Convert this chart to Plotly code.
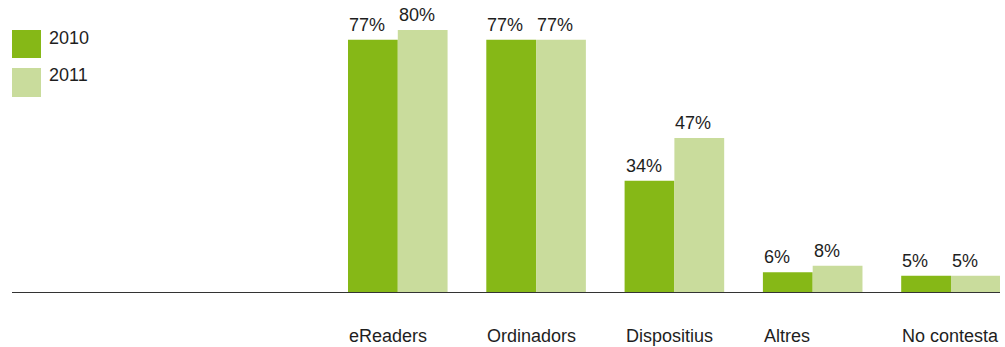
import plotly.graph_objects as go

# Data
categories = ["eReaders", "Ordinadors", "Dispositius", "Altres", "No contesta"]
series_names = ["2010", "2011"]
values_2010 = [77, 77, 34, 6, 5]
values_2011 = [80, 77, 47, 8, 5]

colors = ["#86b817", "#c9dc9c"]
text_color = "#1e1e1e"
font_family = "Liberation Sans, Arial, Helvetica, sans-serif"

W, H = 1005, 347
m_l, m_r, m_t, m_b = 12, 5, 10, 55
plot_w = W - m_l - m_r
plot_h = H - m_t - m_b

bargap = 0.28
bar_w = (1 - bargap) / 2

xs = list(range(len(categories)))
fig = go.Figure()
for name, vals, col in zip(series_names, [values_2010, values_2011], colors):
    fig.add_trace(go.Bar(x=xs, y=vals, name=name, marker=dict(color=col, line=dict(width=0)),
                         showlegend=False, hoverinfo="skip"))

annotations = []
# value labels, left-aligned over each bar
for k, vals in enumerate([values_2010, values_2011]):
    for i, v in enumerate(vals):
        left = i - bar_w + k * bar_w
        annotations.append(dict(x=left, y=v, xref="x", yref="y", text=f"{v}%",
                                showarrow=False, xanchor="left", yanchor="middle",
                                yshift=15, xshift=-1,
                                font=dict(size=18, color=text_color, family=font_family)))
# category labels, left-aligned under each group
for i, c in enumerate(categories):
    annotations.append(dict(x=i - bar_w, y=0, xref="x", yref="paper", text=c,
                            showarrow=False, xanchor="left", yanchor="middle",
                            yshift=-44, xshift=-1,
                            font=dict(size=18, color=text_color, family=font_family)))

# legend drawn as squares + labels
def px_to_paper_x(px):
    return (px - m_l) / plot_w

def px_to_paper_y(py):
    return (m_t + plot_h - py) / plot_h

shapes = []
legend_boxes = [(30, 58), (68, 97)]
legend_text_y = [38, 75]
for name, col, (y0, y1), ty in zip(series_names, colors, legend_boxes, legend_text_y):
    shapes.append(dict(type="rect", xref="paper", yref="paper",
                       x0=px_to_paper_x(12), x1=px_to_paper_x(41),
                       y0=px_to_paper_y(y1), y1=px_to_paper_y(y0),
                       fillcolor=col, line=dict(width=0)))
    annotations.append(dict(x=px_to_paper_x(47), y=px_to_paper_y(ty), xref="paper", yref="paper",
                            text=name, showarrow=False, xanchor="left", yanchor="middle",
                            font=dict(size=18, color=text_color, family=font_family)))

px_per_unit = 138.3
x_left = -bar_w - (348 - m_l) / px_per_unit
x_right = x_left + plot_w / px_per_unit

fig.update_layout(
    width=W, height=H,
    margin=dict(l=m_l, r=m_r, t=m_t, b=m_b, pad=0),
    paper_bgcolor="white", plot_bgcolor="white",
    barmode="group", bargap=bargap, bargroupgap=0,
    xaxis=dict(range=[x_left, x_right], showgrid=False, zeroline=False,
               showticklabels=False, ticks="", showline=True,
               linecolor="#333333", linewidth=1),
    yaxis=dict(range=[0, plot_h / 3.275], showgrid=False, zeroline=False,
               showticklabels=False, ticks="", showline=False),
    annotations=annotations, shapes=shapes,
)

fig.write_html("out.html")
